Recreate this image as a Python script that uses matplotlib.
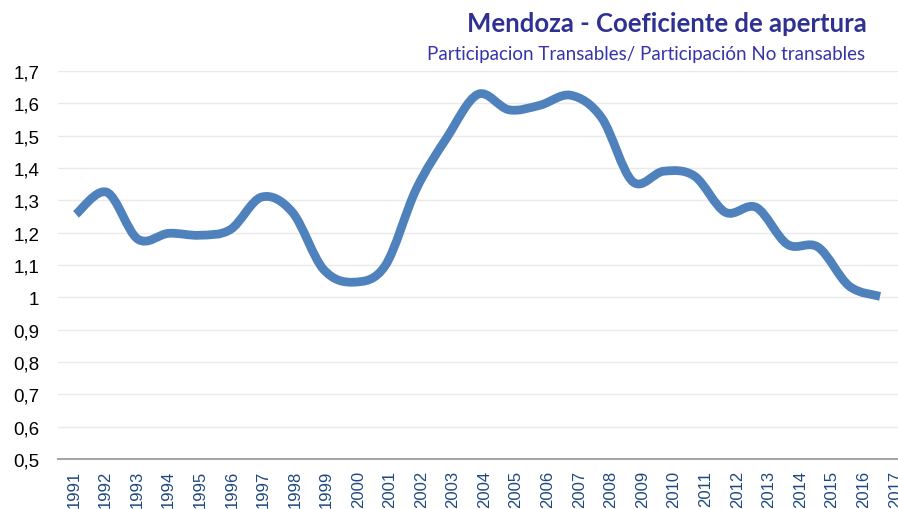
import matplotlib
matplotlib.use("Agg")
import matplotlib.pyplot as plt
from matplotlib.path import Path
from matplotlib.patches import PathPatch
import numpy as np

years = [str(y) for y in range(1991, 2018)]
coef = [1.257, 1.325, 1.180, 1.198, 1.192, 1.210, 1.310, 1.263, 1.087,
        1.047, 1.098, 1.334, 1.495, 1.628, 1.580, 1.594, 1.625, 1.555,
        1.358, 1.390, 1.375, 1.263, 1.278, 1.164, 1.155, 1.035, 1.003]
y_ticks = [0.5, 0.6, 0.7, 0.8, 0.9, 1.0, 1.1, 1.2, 1.3, 1.4, 1.5, 1.6, 1.7]

title = "Mendoza - Coeficiente de apertura"
subtitle = "Participacion Transables/ Participación No transables"

LINE_COLOR = "#4F81BD"
TITLE_COLOR = "#2E3192"
LABEL_COLOR = "#1F497D"


def smooth_path(xs, ys):
    # Excel-style smoothed line: cubic bezier through every point
    pts = np.column_stack([xs, ys]).astype(float)
    n = len(pts)
    verts = [pts[0]]
    codes = [Path.MOVETO]
    for i in range(n - 1):
        p0 = pts[i - 1] if i > 0 else pts[i]
        p1 = pts[i]
        p2 = pts[i + 1]
        p3 = pts[i + 2] if i + 2 < n else pts[i + 1]
        c1 = p1 + (p2 - p0) / 6.0
        c2 = p2 - (p3 - p1) / 6.0
        verts += [c1, c2, p2]
        codes += [Path.CURVE4] * 3
    return Path(verts, codes)


fig = plt.figure(figsize=(8.98, 5.10), dpi=100)

# axes run past the right edge, the original picture is cropped there
ax = fig.add_axes([58 / 898, 50 / 510, 853 / 898, 388 / 510])
ax.set_ylim(0.5, 1.7)
ax.set_xlim(-0.58, 27.0)

x = np.arange(len(coef))
ax.add_patch(PathPatch(smooth_path(x, coef), facecolor="none",
                       edgecolor=LINE_COLOR, lw=6.3, capstyle="butt",
                       joinstyle="round", zorder=3))

ax.set_yticks(y_ticks)
ax.set_yticklabels([f"{v:.1f}".replace(".", ",").replace(",0", "")
                    for v in y_ticks], fontsize=13.5, family="Liberation Sans")
ax.tick_params(axis="y", length=0, pad=13.5, colors="black")
ax.set_xticks([])
ax.grid(axis="y", color="#EAEAEA", lw=1)
ax.set_axisbelow(True)

for side in ["top", "right", "left"]:
    ax.spines[side].set_visible(False)
ax.spines["bottom"].set_color("#A6A6A6")
ax.spines["bottom"].set_linewidth(1.5)

# category axis carrying the year labels
ax_lab = ax.twiny()
ax_lab.set_xlim(-0.5, 26.5)
ax_lab.xaxis.tick_bottom()
ax_lab.set_xticks(range(len(years)))
ax_lab.set_xticklabels(years, rotation=90, fontsize=12,
                       family="Liberation Sans", color=LABEL_COLOR)
ax_lab.tick_params(axis="x", length=0, pad=8)
for side in ax_lab.spines:
    ax_lab.spines[side].set_visible(False)

fig.text(867 / 898, 1 - 32 / 510, title, ha="right", va="baseline",
         fontsize=18.5, fontweight="bold", family="Lato", color=TITLE_COLOR)
fig.text(865 / 898, 1 - 60 / 510, subtitle, ha="right", va="baseline",
         fontsize=13.5, family="Lato", color="#3535A8")

fig.savefig("out.png", dpi=100)
